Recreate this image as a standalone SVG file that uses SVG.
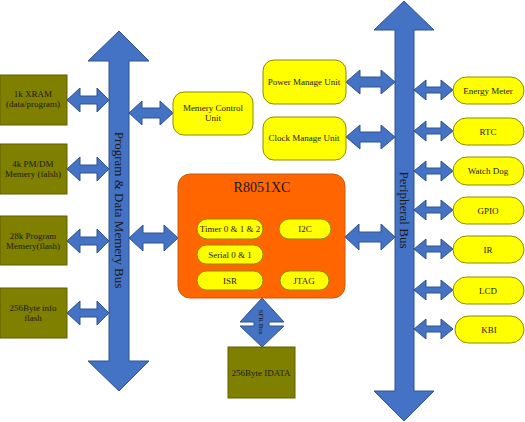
<svg xmlns="http://www.w3.org/2000/svg" width="525" height="422" viewBox="0 0 525 422">
<style>
.bus{fill:#4472c4;stroke:#2f528f;stroke-width:1}
.mem{fill:#808000;stroke:#5e5e00;stroke-width:1}
.yel{fill:#ffff00;stroke:#8c8c00;stroke-width:1}
.cpu{fill:#ff6600;stroke:#c55a11;stroke-width:1}
text{font-family:"Liberation Serif","Times New Roman",serif;fill:#1a1a1a;text-anchor:middle}
.s{font-size:9px}
.b{font-size:13px}
</style>
<rect width="525" height="422" fill="#ffffff"/>
<g id="connectors">
<path class="bus" d="M119 31 L149 61 L129 61 L129 361 L149 361 L119 391 L88 361 L109 361 L109 61 L88 61 Z"/>
<path class="bus" d="M404 1 L434 30 L414 30 L414 391 L434 391 L404 421 L374 391 L395 391 L395 30 L374 30 Z"/>
<path class="bus" d="M67 100 L80 88 L80 96 L97 96 L97 88 L109 100 L97 112 L97 104 L80 104 L80 112 Z"/>
<path class="bus" d="M67 169 L80 157 L80 165 L97 165 L97 157 L109 169 L97 181 L97 173 L80 173 L80 181 Z"/>
<path class="bus" d="M67 241 L80 229 L80 237 L97 237 L97 229 L109 241 L97 253 L97 245 L80 245 L80 253 Z"/>
<path class="bus" d="M67 313 L80 301 L80 309 L97 309 L97 301 L109 313 L97 325 L97 317 L80 317 L80 325 Z"/>
<path class="bus" d="M129 113 L142 101 L142 108 L160 108 L160 101 L173 113 L160 125 L160 118 L142 118 L142 125 Z"/>
<path class="bus" d="M129 238 L143 225 L143 233 L164 233 L164 225 L178 238 L164 251 L164 243 L143 243 L143 251 Z"/>
<path class="bus" d="M345 237 L359 224 L359 232 L381 232 L381 224 L395 237 L381 250 L381 242 L359 242 L359 250 Z"/>
<path class="bus" d="M346 82 L360 70 L360 77 L381 77 L381 70 L395 82 L381 94 L381 87 L360 87 L360 94 Z"/>
<path class="bus" d="M346 137 L360 125 L360 132 L381 132 L381 125 L395 137 L381 149 L381 142 L360 142 L360 149 Z"/>
<path class="bus" d="M414 90 L426 80 L426 87 L441 87 L441 80 L453 90 L441 100 L441 93 L426 93 L426 100 Z"/>
<path class="bus" d="M414 131 L426 121 L426 128 L441 128 L441 121 L453 131 L441 141 L441 134 L426 134 L426 141 Z"/>
<path class="bus" d="M414 171 L426 161 L426 168 L441 168 L441 161 L453 171 L441 181 L441 174 L426 174 L426 181 Z"/>
<path class="bus" d="M414 210 L426 200 L426 207 L441 207 L441 200 L453 210 L441 220 L441 213 L426 213 L426 220 Z"/>
<path class="bus" d="M414 249 L426 239 L426 246 L441 246 L441 239 L453 249 L441 259 L441 252 L426 252 L426 259 Z"/>
<path class="bus" d="M414 290 L426 280 L426 287 L441 287 L441 280 L453 290 L441 300 L441 293 L426 293 L426 300 Z"/>
<path class="bus" d="M414 329 L426 319 L426 326 L441 326 L441 319 L453 329 L441 339 L441 332 L426 332 L426 339 Z"/>
<path class="bus" d="M262 298 L284 322 L269 322 L269 326 L284 326 L262 347 L240 326 L254 326 L254 322 L240 322 Z"/>
<text class="b" transform="translate(115 210) rotate(90)">Program &amp; Data Memery Bus</text>
<text class="b" transform="translate(400 210) rotate(90)">Peripheral Bus</text>
<text style="font-size:7px" transform="translate(259 322) rotate(90)">SFR Bus</text>
</g>
<g id="xram"><rect class="mem" x="0" y="75" width="67" height="50"/><text class="s" x="33" y="97">1k XRAM</text><text class="s" x="33" y="107">(data/program)</text></g>
<g id="pmdm"><rect class="mem" x="0" y="144" width="67" height="50"/><text class="s" x="33" y="167">4k PM/DM</text><text class="s" x="33" y="177">Memery (falsh)</text></g>
<g id="prog"><rect class="mem" x="0" y="216" width="67" height="49"/><text class="s" x="33" y="239">28k Program</text><text class="s" x="33" y="249">Memery(flash)</text></g>
<g id="info"><rect class="mem" x="0" y="288" width="67" height="50"/><text class="s" x="33" y="311">256Byte info</text><text class="s" x="33" y="321">flash</text></g>
<g id="mcu"><rect class="yel" x="173" y="92" width="80" height="43" rx="11"/><text class="s" x="213" y="111">Memery Control</text><text class="s" x="213" y="121">Unit</text></g>
<g id="pmu"><rect class="yel" x="263" y="60" width="83" height="44" rx="11"/><text class="s" x="304" y="85">Power Manage Unit</text></g>
<g id="cmu"><rect class="yel" x="263" y="117" width="83" height="43" rx="11"/><text class="s" x="304" y="141">Clock Manage Unit</text></g>
<g id="cpu">
<rect class="cpu" x="178" y="174" width="167" height="124" rx="12"/>
<text x="262" y="192" style="font-size:14px">R8051XC</text>
<rect class="yel" x="197" y="219" width="66" height="20" rx="10"/><text class="s" x="230" y="232">Timer 0 &amp; 1 &amp; 2</text>
<rect class="yel" x="197" y="245" width="66" height="19" rx="9.5"/><text class="s" x="230" y="258">Serial 0 &amp; 1</text>
<rect class="yel" x="197" y="271" width="66" height="19" rx="9.5"/><text class="s" x="230" y="284">ISR</text>
<rect class="yel" x="279" y="219" width="52" height="20" rx="10"/><text class="s" x="305" y="232">I2C</text>
<rect class="yel" x="280" y="271" width="49" height="19" rx="9.5"/><text class="s" x="304" y="284">JTAG</text>
</g>
<g id="idata"><rect class="mem" x="228" y="347" width="67" height="51"/><text class="s" x="261" y="376">256Byte IDATA</text></g>
<g id="energy"><rect class="yel" x="453" y="77" width="71" height="27" rx="13.5"/><text class="s" x="488" y="94">Energy Meter</text></g>
<g id="rtc"><rect class="yel" x="453" y="118" width="71" height="27" rx="13.5"/><text class="s" x="488" y="135">RTC</text></g>
<g id="wdog"><rect class="yel" x="453" y="157" width="71" height="28" rx="14"/><text class="s" x="488" y="174">Watch Dog</text></g>
<g id="gpio"><rect class="yel" x="453" y="197" width="71" height="27" rx="13.5"/><text class="s" x="488" y="214">GPIO</text></g>
<g id="ir"><rect class="yel" x="453" y="236" width="71" height="27" rx="13.5"/><text class="s" x="488" y="253">IR</text></g>
<g id="lcd"><rect class="yel" x="453" y="277" width="71" height="27" rx="13.5"/><text class="s" x="488" y="294">LCD</text></g>
<g id="kbi"><rect class="yel" x="455" y="316" width="69" height="27" rx="13.5"/><text class="s" x="489" y="333">KBI</text></g>
</svg>
